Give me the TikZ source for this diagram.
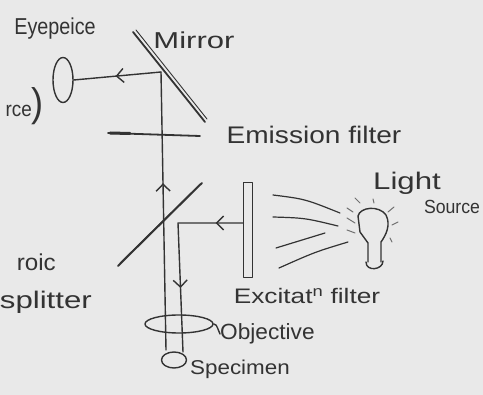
\documentclass[tikz,border=0pt]{standalone}
\usepackage{fontspec}
\setmainfont{Liberation Sans}
\usetikzlibrary{arrows.meta,decorations.markings,shapes.geometric}

\definecolor{paper}{HTML}{E9E9E9}
\definecolor{ink}{HTML}{333333}

\begin{document}
\begin{tikzpicture}[x=1pt,y=-1pt,line cap=round,line join=round,
  ray/.style={draw=ink,line width=1.4pt},
  barbtip/.tip={Straight Barb[length=7pt,width=14pt,line width=1.4pt]},
  barb/.style={postaction={decorate},decoration={markings,
      mark=at position #1 with {\arrow{barbtip}}}},
  lbl/.style n args={2}{text=ink,inner sep=0pt,
      font=\fontsize{#1}{#1}\selectfont\addfontfeature{FakeStretch=#2}},
  lens/.style={ellipse,draw=ink,line width=1.4pt,inner sep=0pt},
  glass/.style={draw=ink,line width=1.8pt},
  glow/.style={draw=ink!70,line width=1pt}]

% paper
\fill[paper] (0,0) rectangle (483,395);
\useasboundingbox (0,0) rectangle (483,395);

% optical elements
\node[lens,minimum width=20pt,minimum height=45pt] (eye) at (63,80) {};
\node[lens,minimum width=68pt,minimum height=18pt] (obj) at (179,324) {};
\node[lens,minimum width=25pt,minimum height=16pt] (spec) at (174,360) {};
\node[draw=ink,line width=1.3pt,minimum width=9pt,minimum height=95pt,inner sep=0pt] (exf) at (248,230) {};

% mirror (doubled stroke)
\draw[glass] (133,32) -- (205,122);
\draw[ink,line width=0.9pt] (136,30) -- (207,119);
% emission filter
\draw[glass] (108,133) -- (200,136);
\draw[ink,line width=3pt] (110,133) -- (130,133.5);
% dichroic beam splitter
\draw[glass] (118,266) -- (202,183);
\draw[ink,line width=0.9pt] (120,263) -- (200,184);

% beam points
\coordinate (mhit) at (161,72);
\coordinate (ebot) at (166,350);
\coordinate (xturn) at (178,223);
\coordinate (xbot) at (183,352);

% emitted light: specimen -> mirror -> eyepiece
\draw[ray,barb=0.6] (ebot) -- (mhit);
\draw[ray,barb=0.52] (mhit) -- (eye.east);
% excitation light: filter -> splitter -> specimen
\draw[ray,postaction={decorate},decoration={markings,
    mark=at position 0.14 with {\arrow{barbtip}},
    mark=at position 0.67 with {\arrow{barbtip}}}]
  (exf.west |- xturn) -- (xturn) -- (xbot);

% lamp
\draw[ray] (368,262) -- (368,243) -- (360,232) -- (358,216)
  .. controls (360,207) and (379,205) .. (386,215)
  .. controls (391,225) and (386,235) .. (381,242) -- (381,262);
\draw[ray] (366,262) .. controls (366,272) and (383,270) .. (383,261);
\foreach \a/\b in {{(355,198)/(360,203)},{(373,199)/(374,203)},{(388,212)/(394,207)},
                   {(392,225)/(398,222)},{(390,238)/(392,242)},{(347,208)/(353,212)},
                   {(347,218)/(355,223)},{(347,230)/(355,233)}}
  \draw[glow] \a -- \b;

% light rays from lamp towards the excitation filter
\draw[ray,line width=1.2pt] (273,195) .. controls (305,199) .. (340,213);
\draw[ray,line width=1.2pt] (273,217) .. controls (305,218) .. (338,226);
\draw[ray,line width=1.2pt] (276,248) .. controls (300,241) .. (325,233);
\draw[ray,line width=1.2pt] (279,268) .. controls (315,252) .. (348,242);

% labels
\node[lbl={23}{0.86}] (teye) at (55,29) {Eyepeice};
\node[lbl={23}{1.35}] (tmir) at (194,40) {Mirror};
\node[lbl={21}{0.9},anchor=east] (tsrc) at (44,106) {rce{\fontsize{40}{40}\selectfont)}};
\node[lbl={24}{1.17}] (temi) at (314,135) {Emission filter};
\node[lbl={23}{1.05},anchor=east] (tdi1) at (56,262) {roic};
\node[lbl={24}{1.3},anchor=east] (tdi2) at (92,302) {splitter};
\node[lbl={24}{1.3}] (tlight) at (407,183) {Light};
\node[lbl={19}{0.93}] (tsource) at (452,207) {Source};
\node[lbl={21}{1.25}] (texc) at (307,296) {Excitat\textsuperscript{n} filter};
\node[lbl={22}{1.03},anchor=west] (tobj) at (220,334) {Objective};
\node[lbl={20}{1.12},anchor=west] (tspec) at (190,369) {Specimen};

% leader from objective lens to its label
\draw[ray] (obj.east) .. controls (216,324) .. (tobj.west);
\end{tikzpicture}
\end{document}
